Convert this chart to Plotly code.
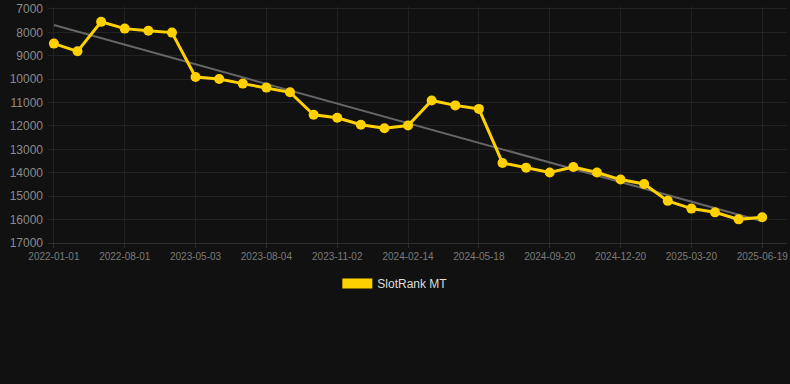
import numpy as np
import plotly.graph_objects as go

dates = [
    "2022-01-01", "2022-03-15", "2022-05-20", "2022-08-01", "2022-11-01", "2023-02-01",
    "2023-05-03", "2023-06-04", "2023-07-05", "2023-08-04", "2023-09-03", "2023-10-03",
    "2023-11-02", "2023-12-06", "2024-01-10", "2024-02-14", "2024-03-18", "2024-04-17",
    "2024-05-18", "2024-06-28", "2024-08-09", "2024-09-20", "2024-10-20", "2024-11-20",
    "2024-12-20", "2025-01-19", "2025-02-18", "2025-03-20", "2025-04-19", "2025-05-20",
    "2025-06-19",
]
ranks = [
    8480, 8810, 7550, 7840, 7930, 8010,
    9910, 9990, 10190, 10360, 10560, 11520,
    11650, 11950, 12100, 11980, 10910, 11120,
    11270, 13580, 13780, 13990, 13750, 13990,
    14290, 14480, 15200, 15530, 15690, 15990,
    15900,
]
tick_labels = dates[::3]
y_ticks = [7000, 8000, 9000, 10000, 11000, 12000, 13000, 14000, 15000, 16000, 17000]
series_name = "SlotRank MT"

idx = np.arange(len(ranks))
slope, intercept = np.polyfit(idx, ranks, 1)
trend = [slope * i + intercept for i in (idx[0], idx[-1])]

YELLOW = "#FFD100"

fig = go.Figure()
fig.add_trace(go.Scatter(
    x=[dates[0], dates[-1]], y=trend, mode="lines",
    line=dict(color="#666666", width=2), showlegend=False, hoverinfo="skip",
))
fig.add_trace(go.Scatter(
    x=dates, y=ranks, mode="lines+markers", name=series_name,
    line=dict(color=YELLOW, width=3), marker=dict(color=YELLOW, size=10),
    showlegend=False, cliponaxis=False,
))
fig.add_trace(go.Scatter(
    x=[None], y=[None], mode="lines", name=series_name,
    line=dict(color=YELLOW, width=12), showlegend=True,
))

fig.update_layout(
    width=790, height=384,
    margin=dict(l=48, r=2, t=4, b=141),
    paper_bgcolor="#111111", plot_bgcolor="#111111",
    font=dict(family="Arial, Liberation Sans, sans-serif"),
    showlegend=True,
    legend=dict(
        orientation="h", x=0.470, xanchor="center", y=-0.172, yanchor="middle",
        font=dict(size=12, color="#dddddd"), bgcolor="rgba(0,0,0,0)",
    ),
    xaxis=dict(
        type="category", categoryorder="array", categoryarray=dates,
        tickmode="array", tickvals=tick_labels, ticktext=tick_labels,
        range=[-0.25, 31.05],
        showgrid=True, gridcolor="#222222", gridwidth=1,
        showline=True, linecolor="#2e2e2e", linewidth=1,
        ticks="outside", ticklen=4, tickcolor="#2e2e2e",
        tickfont=dict(size=10, color="#7a7a7a"),
        zeroline=False,
    ),
    yaxis=dict(
        range=[17000, 6916], tickmode="array", tickvals=y_ticks,
        ticktext=[str(v) for v in y_ticks], ticklabeloverflow="allow",
        showgrid=True, gridcolor="#222222", gridwidth=1,
        tickfont=dict(size=12, color="#8a8a8a"),
        zeroline=False, ticks="", ticklabelstandoff=4,
    ),
)

fig.write_html(
    "out.html",
    config={"displayModeBar": False},
    post_script="document.body.style.margin='0';document.body.style.background='#111111';",
)
